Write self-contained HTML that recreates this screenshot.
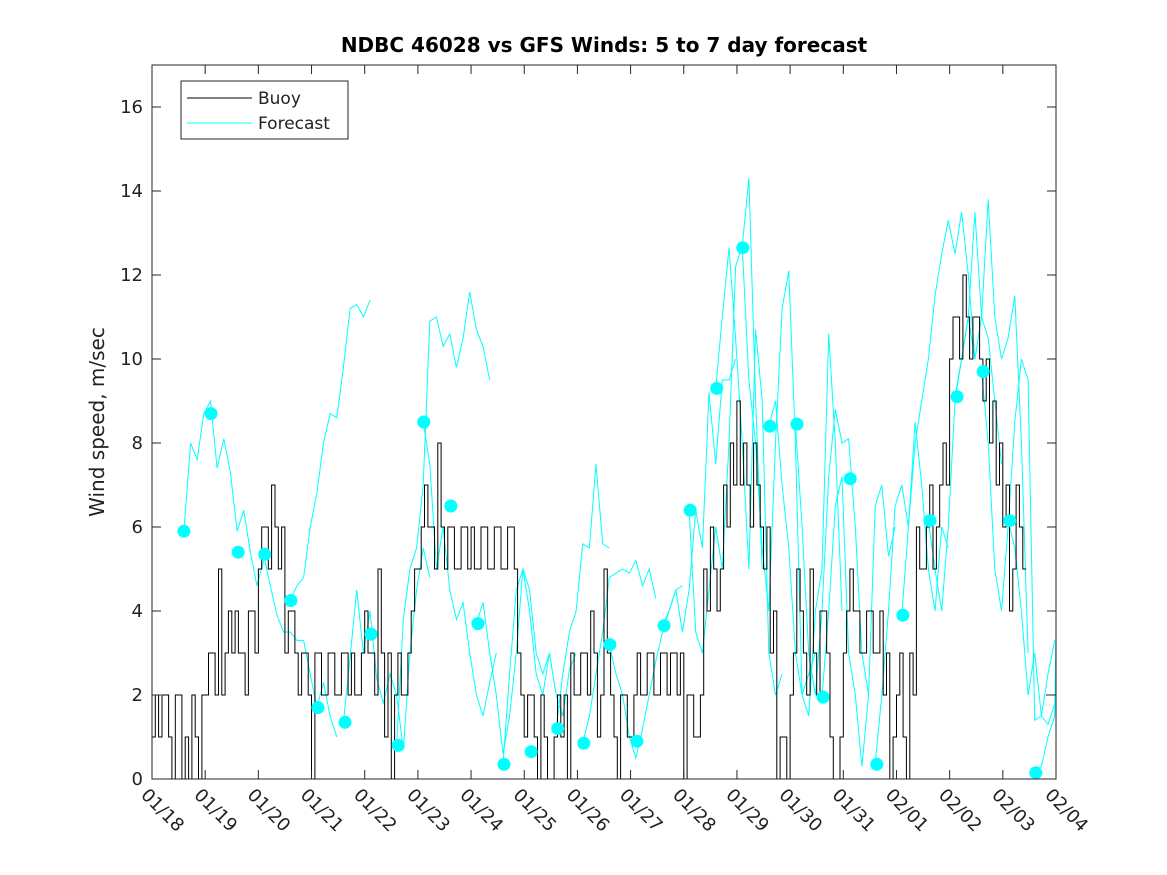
<!DOCTYPE html>
<html><head><meta charset="utf-8"><style>
body{margin:0;background:#fff}
svg{display:block;font-family:"DejaVu Sans","Liberation Sans",sans-serif}
</style></head><body>
<svg id="chart" width="1167" height="875" viewBox="0 0 1167 875">
<rect width="1167" height="875" fill="#fff"/>
<text x="604" y="52" font-size="20" font-weight="bold" text-anchor="middle" fill="#000">NDBC 46028 vs GFS Winds: 5 to 7 day forecast</text>
<text transform="translate(104,422) rotate(-90)" font-size="20" text-anchor="middle" fill="#222">Wind speed, m/sec</text>
<g id="marks"></g>
<rect x="152" y="65" width="904" height="714" fill="none" stroke="#262626" stroke-width="1"/>
<g id="axes"></g>
<g>
<rect x="181" y="81" width="167" height="58" fill="#fff" stroke="#262626"/>
<line x1="187" y1="98" x2="252" y2="98" stroke="#000"/>
<text x="258" y="104" font-size="17" fill="#222">Buoy</text>
<line x1="187" y1="123" x2="252" y2="123" stroke="#00ffff"/>
<text x="258" y="129" font-size="17" fill="#222">Forecast</text>
</g>
</svg>
<script>
const xTickLabels=["01/18","01/19","01/20","01/21","01/22","01/23","01/24","01/25","01/26","01/27","01/28","01/29","01/30","01/31","02/01","02/02","02/03","02/04"];
const yTicks=[0,2,4,6,8,10,12,14,16];
const buoyStep=0.0625;
const buoy=[1,2,1,2,2,1,0,2,2,0,1,0,2,1,0,2,
2,3,3,2,5,2,3,4,3,4,3,3,2,4,4,3,
5,6,6,5,7,6,5,6,3,4,4,3,2,3,3,2,
0,3,3,2,2,3,3,2,2,3,3,2,3,2,2,3,
4,3,3,2,5,3,1,3,0,2,3,2,2,3,4,5,
5,6,7,6,6,5,8,6,5,6,6,5,5,6,6,5,
6,5,5,6,6,5,5,6,6,5,5,6,6,5,3,2,
1,2,2,1,0,2,1,0,0,1,2,1,2,0,3,2,
2,3,3,2,4,3,1,2,5,3,2,1,0,2,2,1,
1,2,3,2,2,3,3,2,2,3,3,2,3,3,2,3,
0,2,2,1,1,2,5,4,6,5,4,5,7,6,8,7,
9,7,8,7,6,8,7,6,5,6,3,4,0,1,1,0,
2,3,5,4,3,2,5,3,2,4,4,3,1,0,0,1,
3,4,5,4,4,3,3,4,4,3,3,4,2,3,0,1,
2,3,1,0,3,2,6,5,5,6,7,5,6,7,8,7,
10,11,11,10,12,11,10,11,11,10,9,10,8,9,7,8,
6,7,4,5,7,6,5,null,null,null,null,null,null,2,2,2];
const dotDays=[0.6,1.11,1.62,2.12,2.61,3.12,3.63,4.12,4.63,5.11,5.62,6.13,6.62,7.13,7.63,8.12,8.61,9.12,9.63,10.12,10.62,11.11,11.62,12.13,12.62,13.13,13.63,14.12,14.63,15.14,15.63,16.13,16.62];
const dotValues=[5.9,8.7,5.4,5.35,4.25,1.7,1.35,3.45,0.8,8.5,6.5,3.7,0.35,0.65,1.2,0.85,3.2,0.9,3.65,6.4,9.3,12.65,8.4,8.45,1.95,7.15,0.35,3.9,6.15,9.1,9.7,6.15,0.15];
const segStarts=[0.6,2.1,2.6,3.6,4.6,5.1,6.1,6.6,7.6,8.1,8.6,9.6,10.1,10.6,11.1,11.6,12.1,12.6,13.6,14.1,14.6,15.1,15.6,16.1,16.6];
const segValues=[
[5.9,8.0,7.6,8.7,9.0,7.4,8.1,7.3,5.9,6.4,5.4,4.6,5.2],
[5.35,4.6,3.9,3.5,3.5,3.3,3.3,2.5,1.7,2.3,1.5,1.0],
[4.25,4.6,4.8,6.0,6.8,8.0,8.7,8.6,9.8,11.2,11.3,11.0,11.4],
[1.35,2.9,4.5,3.0,4.0,2.4,1.8,2.5,2.0,0.7,3.0,4.5,5.5,4.8],
[0.8,3.8,5.0,5.5,7.0,10.9,11.0,10.3,10.6,9.8,10.5,11.6,10.7,10.3,9.5],
[8.5,7.5,5.0,6.0,4.5,3.8,4.2,3.0,2.0,1.5,2.3,3.0],
[3.7,4.2,3.0,2.0,0.6,1.5,3.0,5.0,4.0,2.5,2.0,3.0],
[0.35,2.5,4.5,5.0,4.5,3.0,2.5,3.0,2.0,1.5,2.6,3.0],
[1.2,2.5,3.5,4.0,5.6,5.5,7.5,5.6,5.5],
[0.85,1.5,2.5,3.5,4.8,4.9,5.0,4.9,5.2,4.6,5.0,4.3],
[3.2,2.5,2.0,1.0,0.5,1.2,2.0,2.8,3.5,4.0,4.5,4.6],
[3.65,4.0,4.5,3.5,4.5,6.4,5.5,9.2,7.5,9.5,9.5,10.0],
[6.4,3.5,3.0,4.5,6.0,5.0,8.0,12.2,12.7,14.3,9.0,5.0],
[9.3,11.0,12.65,10.5,8.0,5.0,10.7,9.0,3.0,2.0,2.5],
[12.65,9.5,8.0,5.5,4.0,8.0,11.2,12.1,8.0,2.0,2.5,3.0],
[8.4,9.0,7.0,5.5,3.0,2.0,1.5,4.0,5.0,10.6,8.0,4.0],
[8.45,6.0,3.0,2.0,4.0,7.2,8.8,8.0,8.1,6.0,3.0,2.0],
[1.95,4.0,6.5,7.2,3.0,2.0,0.3,2.0,6.5,7.0,5.3,6.0],
[0.35,2.0,4.0,6.5,7.0,6.0,8.5,7.0,5.0,4.0,6.0,5.5],
[3.9,6.0,8.0,9.0,10.0,11.5,12.5,13.3,12.5,13.5,12.0,10.0],
[6.15,5.0,4.0,6.0,9.0,10.0,11.0,13.5,11.0,10.5,9.0,7.5],
[9.1,10.0,11.0,10.0,11.0,13.8,11.0,10.0,10.5,11.5,8.0,3.0],
[9.7,8.0,5.0,4.0,6.0,8.5,10.0,9.5,1.4,1.5,1.3,1.8],
[6.15,5.5,4.0,2.0,3.0,1.5,2.5,3.3],
[0.15,0.3,1.0,1.5,3.5]
];
const segStep=0.125;
const NS="http://www.w3.org/2000/svg";
const X0=152,X1=1056,Y0=779,Y1=65,DAYS=17,YMAX=17;
function xs(d){return X0+(X1-X0)*d/DAYS;}
function ys(v){return Y0-(Y0-Y1)*v/YMAX;}
function mk(tag,attrs,parent){const e=document.createElementNS(NS,tag);for(const k in attrs)e.setAttribute(k,attrs[k]);parent.appendChild(e);return e;}
const marks=document.getElementById('marks'),axes=document.getElementById('axes');
segValues.forEach((vals,si)=>{
  const pts=vals.map((v,i)=>xs(Math.min(DAYS,segStarts[si]+i*segStep)).toFixed(1)+','+ys(v).toFixed(1)).join(' ');
  const pl=mk('polyline',{points:pts,fill:'none',stroke:'#00ffff','stroke-width':1},marks);
  
  
});
let d='',pen=false;
buoy.forEach((v,i)=>{
  if(v===null){pen=false;return;}
  const xa=xs(i*buoyStep),xb=xs(Math.min(DAYS,(i+1)*buoyStep)),y=ys(v);
  d+=(pen?'L':'M')+xa.toFixed(1)+','+y.toFixed(1)+'L'+xb.toFixed(1)+','+y.toFixed(1);
  pen=true;
});
const bp=mk('path',{d:d,fill:'none',stroke:'#000','stroke-width':1},marks);


dotDays.forEach((dd,i)=>{
  const c=mk('circle',{cx:xs(dd),cy:ys(dotValues[i]),r:6.5,fill:'#00ffff'},marks);
  
  
});
yTicks.forEach(v=>{
  const y=ys(v);
  mk('line',{x1:X0,y1:y,x2:X0+9,y2:y,stroke:'#262626'},axes);
  mk('line',{x1:X1,y1:y,x2:X1-9,y2:y,stroke:'#262626'},axes);
  const t=mk('text',{x:X0-9,y:y+6,'font-size':18,'text-anchor':'end',fill:'#222'},axes);
  t.textContent=v;
  
  
});
xTickLabels.forEach((lab,i)=>{
  const x=xs(i);
  mk('line',{x1:x,y1:Y0,x2:x,y2:Y0-9,stroke:'#262626'},axes);
  mk('line',{x1:x,y1:Y1,x2:x,y2:Y1+9,stroke:'#262626'},axes);
  const t=mk('text',{transform:'translate('+(x-12)+','+(Y0+17)+') rotate(45)','font-size':18,fill:'#222'},axes);
  t.textContent=lab;
  
  
});
</script>
</body></html>
